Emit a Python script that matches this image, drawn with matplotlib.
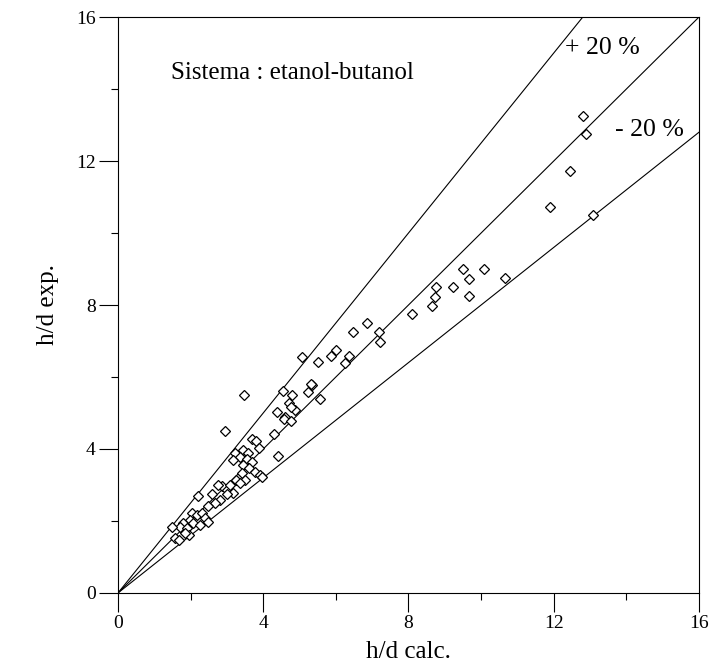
import numpy as np
import matplotlib
matplotlib.use("Agg")
import matplotlib.pyplot as plt
from matplotlib.ticker import MultipleLocator

plt.rcParams['font.family'] = ['Liberation Serif', 'DejaVu Serif']

# h/d calculated vs. experimental, ethanol-butanol system
hd_calc = [12.80, 12.89, 12.45, 11.90, 13.08,
           9.51, 10.08, 9.67, 10.67, 9.22, 8.76, 8.73, 9.68, 8.66, 8.09,
           6.85, 6.47, 7.19, 7.22, 6.01, 5.86, 6.36, 6.25, 5.50, 5.06, 5.34,
           3.47, 5.32, 5.22, 4.55, 4.78, 5.56, 4.71, 4.88, 4.39, 4.60,
           4.77, 4.57, 4.76, 2.95, 4.30, 3.70, 3.80, 4.42, 3.22, 3.43, 3.89,
           3.59, 3.36, 3.55, 3.68, 3.18, 3.45, 3.62, 3.77, 3.91, 3.96, 3.41,
           3.25, 3.50, 2.86, 3.01, 3.18, 3.36,
           2.21, 2.58, 2.76, 2.81, 2.67, 2.49, 3.09, 2.99, 2.03, 2.17, 2.30,
           2.40, 2.49, 1.98, 2.07, 2.26, 1.80, 1.71, 1.89, 1.48, 1.57, 1.69,
           1.96, 1.85]
hd_exp = [13.26, 12.75, 11.73, 10.73, 10.50,
          8.99, 8.99, 8.73, 8.75, 8.49, 8.51, 8.23, 8.25, 7.98, 7.75,
          7.49, 7.24, 7.26, 6.97, 6.75, 6.59, 6.59, 6.38, 6.41, 6.55, 5.78,
          5.50, 5.80, 5.58, 5.62, 5.50, 5.39, 5.27, 5.07, 5.04, 4.90,
          5.16, 4.83, 4.79, 4.50, 4.42, 4.27, 4.23, 3.81, 3.90, 3.97, 4.02,
          3.90, 3.77, 3.71, 3.65, 3.69, 3.56, 3.46, 3.37, 3.28, 3.23, 3.33,
          3.14, 3.14, 2.97, 2.86, 2.79, 3.05,
          2.69, 2.75, 3.00, 2.58, 2.51, 2.42, 3.00, 2.75, 2.21, 2.17, 2.21,
          2.07, 1.98, 2.03, 1.94, 1.89, 1.94, 1.84, 1.80, 1.82, 1.52, 1.47,
          1.61, 1.66]

# deviation bands: exp = calc, exp = calc/0.8, exp = 0.8*calc
factors = [1.0, 1 / 0.8, 0.8]
lim = 16

fig = plt.figure(figsize=(7.09, 6.65), dpi=100)
ax = fig.add_axes([0.1664, 0.1083, 0.8195, 0.8661])

for f in factors:
    xe = min(lim, lim / f)
    ax.plot([0, xe], [0, f * xe], color='black', lw=0.8)

ax.plot(hd_calc, hd_exp, linestyle='none', marker='D', markersize=5.5,
        markerfacecolor='white', markeredgecolor='black', markeredgewidth=0.9)

ax.set_xlim(0, lim)
ax.set_ylim(0, lim)
ax.xaxis.set_major_locator(MultipleLocator(4))
ax.yaxis.set_major_locator(MultipleLocator(4))
ax.xaxis.set_minor_locator(MultipleLocator(2))
ax.yaxis.set_minor_locator(MultipleLocator(2))
ax.tick_params(which='major', direction='out', length=14, width=0.8,
               labelsize=14, pad=2)
ax.tick_params(which='minor', direction='out', length=5, width=0.8)
for s in ax.spines.values():
    s.set_linewidth(0.8)

ax.set_xlabel('h/d calc.', fontsize=18, labelpad=6)
ax.set_ylabel('h/d exp.', fontsize=18, labelpad=12)

ax.text(1.45, 14.45, 'Sistema : etanol-butanol', fontsize=18, va='center')
ax.text(12.3, 15.15, '+ 20 %', fontsize=18.5, va='center')
ax.text(13.7, 12.85, '- 20 %', fontsize=18.5, va='center')

fig.savefig('out.png', dpi=100)
